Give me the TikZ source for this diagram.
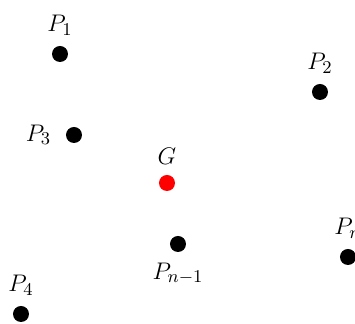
\documentclass[tikz,border=0pt]{standalone}
\usepackage{tikz}
\usetikzlibrary{positioning}
\definecolor{centroid}{HTML}{FF0000}
\tikzset{
  pt/.style={circle, fill=black, inner sep=0pt, minimum size=8pt},
  gpt/.style={circle, fill=centroid, inner sep=0pt, minimum size=8pt},
  every label/.style={font=\fontsize{13}{15}\selectfont, inner sep=1pt},
  label distance=4pt
}
\begin{document}
\begin{tikzpicture}[x=0.5pt, y=-0.5pt]
        \useasboundingbox (0,0) rectangle (355,324);
        \node[pt, label=above:$P_1$] (p1) at (60,54) {};
        \node[pt, label=above:$P_2$] (p2) at (320,92) {};
        \node[pt, label={[label distance=6pt]left:$P_3$}] (p3) at (74,135) {};
        \node[gpt, label=above:$G$] (g) at (167,183) {};
        \node[pt, label=above:$P_n$] (pn) at (348,257) {};
        \node[pt, label=below:$P_{n-1}$] (pn1) at (178,244) {};
        \node[pt, label=above:$P_4$] (p4) at (21,314) {};
      \end{tikzpicture}
\end{document}
